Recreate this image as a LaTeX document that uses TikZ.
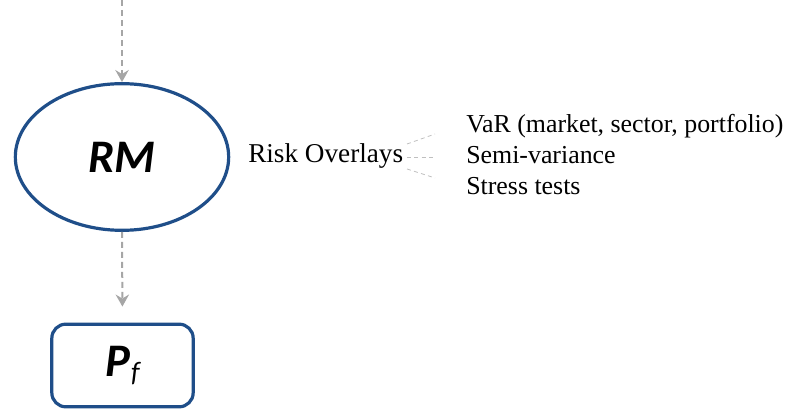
\documentclass[tikz,border=0pt]{standalone}
\usepackage{fontspec}
\setmainfont{Liberation Serif}
\newfontfamily\headfont{Carlito}
\usetikzlibrary{arrows.meta,shapes.geometric}
\definecolor{frameblue}{HTML}{1F4E89}
\definecolor{flowgrey}{HTML}{A6A6A6}
\definecolor{linkgrey}{HTML}{BFBFBF}
\begin{document}
\begin{tikzpicture}[x=0.75pt,y=-0.75pt,
  flow/.style={draw=flowgrey,line width=1.5pt,dash pattern=on 4.5pt off 3pt,
    -{Stealth[length=9pt,width=10pt,inset=3pt]}},
  link/.style={draw=linkgrey,line width=0.6pt,dash pattern=on 3pt off 2.5pt},
  headtxt/.style={font=\headfont\bfseries\itshape\fontsize{35}{40}\selectfont},
  itemtxt/.style={font=\fontsize{19.4}{22}\selectfont,anchor=base west,inner sep=0pt},
]
\useasboundingbox (0,0) rectangle (787,409);
\node[ellipse,draw=frameblue,line width=2.4pt,minimum width=160pt,minimum height=110pt,
  headtxt,inner sep=0pt] (rm) at (122,157) {RM};
\node[draw=frameblue,line width=2.4pt,rounded corners=10.5pt,minimum width=106pt,
  minimum height=62pt,headtxt,inner sep=0pt] (pf) at (122.5,365.5) {P\kern0.02em\raisebox{-0.12em}{\fontsize{21}{24}\selectfont\mdseries\itshape f}};
\coordinate (src) at (122,0);
\draw[flow] (src) -- (rm.north);
\draw[flow,shorten >=12pt] (rm.south) -- (pf.north);
\node[font=\fontsize{20.4}{24}\selectfont,anchor=base west,inner sep=0pt] (ro) at (248,163) {Risk Overlays};
\node[itemtxt] (var) at (466,133) {VaR (market, sector, portfolio)};
\node[itemtxt] (semi) at (466,164) {Semi-variance};
\node[itemtxt] (stress) at (466,195) {Stress tests};
\coordinate (l1a) at (407,144); \coordinate (l1b) at (435,134);
\coordinate (l2a) at (407,157); \coordinate (l2b) at (435,157);
\coordinate (l3a) at (407,169); \coordinate (l3b) at (435,178);
\draw[link] (l1a) -- (l1b);
\draw[link] (l2a) -- (l2b);
\draw[link] (l3a) -- (l3b);
\end{tikzpicture}
\end{document}
